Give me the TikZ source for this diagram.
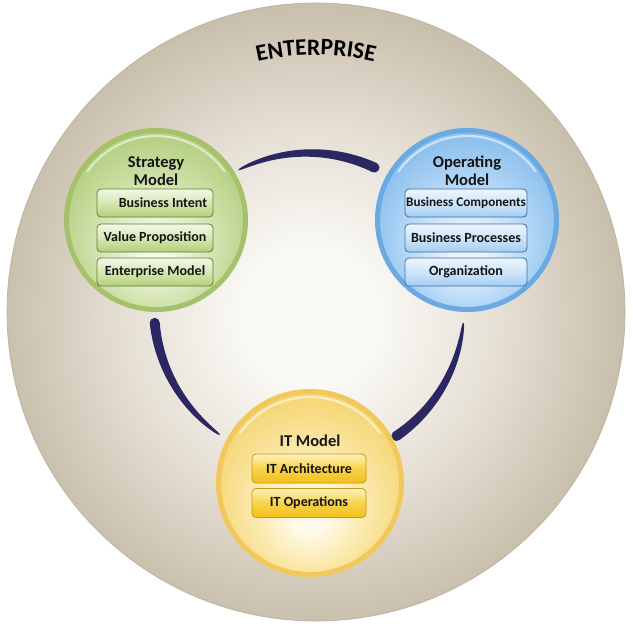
\documentclass[tikz,border=0pt]{standalone}
\usepackage{fontspec}
\setmainfont{Carlito}
\usetikzlibrary{decorations.text}

\definecolor{bgA}{HTML}{FBFAF7}
\definecolor{bgB}{HTML}{E6E0D5}
\definecolor{bgC}{HTML}{C9BFAD}
\definecolor{bgEdge}{HTML}{B9AF9C}
\definecolor{txt}{HTML}{151515}
\definecolor{brushc}{HTML}{2B2763}
% green
\definecolor{gA}{HTML}{F5F9EC}
\definecolor{gB}{HTML}{D6E6B6}
\definecolor{gC}{HTML}{B7D185}
\definecolor{gRim}{HTML}{A5C16A}
\definecolor{gbT}{HTML}{F3F8E7}
\definecolor{gbM}{HTML}{D6E7B2}
\definecolor{gbB}{HTML}{B3CF7A}
\definecolor{gEdge}{HTML}{5E7F30}
% blue
\definecolor{bA}{HTML}{EEF6FD}
\definecolor{bB}{HTML}{BCDCF7}
\definecolor{bC}{HTML}{8FC1EE}
\definecolor{bRim}{HTML}{6AA9E4}
\definecolor{bbT}{HTML}{ECF5FD}
\definecolor{bbM}{HTML}{CFE5F9}
\definecolor{bbB}{HTML}{A4CDF2}
\definecolor{bEdge}{HTML}{3D6DA6}
% yellow
\definecolor{yA}{HTML}{FFFBEC}
\definecolor{yB}{HTML}{FBEAAE}
\definecolor{yC}{HTML}{F6D77A}
\definecolor{yRim}{HTML}{F2C85A}
\definecolor{ybT}{HTML}{FEF2BE}
\definecolor{ybM}{HTML}{F8D34A}
\definecolor{ybB}{HTML}{F3BF1C}
\definecolor{yEdge}{HTML}{C6981A}

\pgfdeclareradialshading{bigshade}{\pgfpoint{-0.5bp}{-0.5bp}}{color(0bp)=(bgA); color(5bp)=(bgA); color(15bp)=(bgB); color(25bp)=(bgC); color(50bp)=(bgC)}
\pgfdeclareradialshading{greenshade}{\pgfpoint{0bp}{-10bp}}{color(0bp)=(gA); color(4bp)=(gA); color(15bp)=(gB); color(27bp)=(gC); color(50bp)=(gC)}
\pgfdeclareradialshading{blueshade}{\pgfpoint{0bp}{-10bp}}{color(0bp)=(bA); color(4bp)=(bA); color(15bp)=(bB); color(27bp)=(bC); color(50bp)=(bC)}
\pgfdeclareradialshading{yellowshade}{\pgfpoint{0bp}{-10bp}}{color(0bp)=(yA); color(4bp)=(yA); color(15bp)=(yB); color(27bp)=(yC); color(50bp)=(yC)}

\newcommand\titlefont{\fontsize{16.5}{17.5}\selectfont\bfseries}
\newcommand\boxfont{\fontsize{14}{15}\selectfont\bfseries}
\newcommand\boxfontnarrow{\fontsize{13.2}{15}\selectfont\bfseries}
\newcommand\entfont{\fontsize{23.5}{23.5}\selectfont\bfseries}

% tapered brush stroke along the inner ring; #1 thin-end angle, #2 thick-end angle
\newcommand\brusharc[2]{%
  \fill[brushc] plot[domain=0:1,samples=50,variable=\t]
      ({309+(155+(0.4+4.6*sqrt(\t)))*cos(#1+(#2-#1)*\t)},{-308+(155+(0.4+4.6*sqrt(\t)))*sin(#1+(#2-#1)*\t)})
    -- plot[domain=1:0,samples=50,variable=\t]
      ({309+(155-(0.4+4.6*sqrt(\t)))*cos(#1+(#2-#1)*\t)},{-308+(155-(0.4+4.6*sqrt(\t)))*sin(#1+(#2-#1)*\t)})
    -- cycle;
  \fill[brushc] ({309+155*cos(#2)},{-308+155*sin(#2)}) circle (5);
}

\tikzset{
  every node/.style={inner sep=0pt, outer sep=0pt, text=txt},
  ballg/.style={circle, draw=gRim, line width=5pt, minimum size=179pt, shade, shading=greenshade},
  ballb/.style={circle, draw=bRim, line width=5pt, minimum size=179pt, shade, shading=blueshade},
  bally/.style={circle, draw=yRim, line width=5pt, minimum size=183pt, shade, shading=yellowshade},
  gloss/.style={white, opacity=0.55, line width=2.2pt},
  titletext/.style={align=center, font=\titlefont},
  boxbase/.style={rounded corners=4pt, line width=0.8pt, minimum height=28pt, font=\boxfont},
  gbox/.style={boxbase, draw=gEdge, top color=gbT, bottom color=gbB, middle color=gbM, minimum width=116pt},
  bbox/.style={boxbase, draw=bEdge, top color=bbT, bottom color=bbB, middle color=bbM, minimum width=122pt},
  ybox/.style={boxbase, draw=yEdge, top color=ybT, bottom color=ybB, middle color=ybM, minimum width=114pt, minimum height=29pt},
}

\begin{document}
\begin{tikzpicture}[x=1pt,y=1pt]
\useasboundingbox (0,0) rectangle (632,-634);
\fill[white] (0,0) rectangle (632,-634);

% enterprise disc
\node[circle, minimum size=618pt, shade, shading=bigshade, draw=bgEdge, line width=0.6pt] (ent) at (316,-312) {};
\path[decorate, decoration={text along path, text align=center, text={|\entfont|ENTERPRISE}}]
  (ent.center) ++(104:257) arc (104:76:257);

% brush strokes of the cycle
\brusharc{117}{65}
\brusharc{-5.5}{-55.7}
\brusharc{234.8}{185.5}

% strategy model
\node[ballg] (strat) at (156,-220) {};
\draw[gloss] (strat.center) ++(35:84) arc (35:145:84);
\node[titletext] (stitle) at (156,-171) {Strategy\\Model};
\node[gbox] (s1) at (155,-203) {\hspace*{16pt}Business Intent};
\node[gbox] (s2) at (155,-238) {Value Proposition};
\node[gbox] (s3) at (155,-272) {Enterprise Model};

% operating model
\node[ballb] (oper) at (467,-220) {};
\draw[gloss] (oper.center) ++(35:84) arc (35:145:84);
\node[titletext] (otitle) at (467,-171) {Operating\\Model};
\node[bbox, font=\boxfontnarrow] (o1) at (466,-203) {Business Components};
\node[bbox] (o2) at (466,-238) {Business Processes};
\node[bbox] (o3) at (466,-272) {Organization};

% IT model
\node[bally] (itm) at (310,-483) {};
\draw[gloss] (itm.center) ++(35:86) arc (35:145:86);
\node[titletext] (ititle) at (310,-441) {IT Model};
\node[ybox] (i1) at (309,-468.5) {IT Architecture};
\node[ybox] (i2) at (309,-503) {IT Operations};
\end{tikzpicture}
\end{document}
